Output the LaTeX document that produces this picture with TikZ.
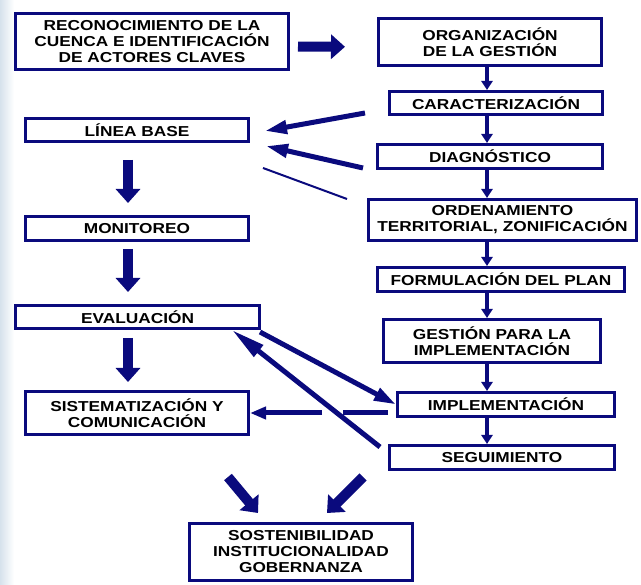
\documentclass[tikz,border=0pt]{standalone}
\usepackage{fontspec}
\setmainfont{Liberation Sans}[FakeStretch=1.2]
\usetikzlibrary{arrows.meta}
\definecolor{navy}{RGB}{10,10,125}
\definecolor{haze}{RGB}{214,226,236}
\begin{document}
\begin{tikzpicture}[x=1pt,y=-1pt]
 \tikzset{box/.style={draw=navy, line width=3pt, fill=white, inner sep=1pt,
   align=center, font=\fontsize{14.4}{16}\selectfont\bfseries}}
 \tikzset{bigarrow/.style={draw=navy, line width=10pt, -{Triangle[length=14pt,width=24pt]}}}
 \tikzset{midarrow/.style={draw=navy, line width=5pt, -{Triangle[length=22pt,width=13pt]}}}
 \tikzset{spinearrow/.style={draw=navy, line width=3.5pt, -{Triangle[length=9pt,width=11pt]}}}
  \useasboundingbox (0,0) rectangle (641,585);
  \shade[left color=haze, right color=white] (0,0) rectangle (14,585);
  % right column
  \node[box, minimum width=273pt, minimum height=56pt] (reco) at (152,41.5) {RECONOCIMIENTO DE LA\\CUENCA E IDENTIFICACIÓN\\DE ACTORES CLAVES};
  \node[box, minimum width=223pt, minimum height=47pt] (org) at (490,42) {ORGANIZACIÓN\\DE LA GESTIÓN};
  \node[box, minimum width=213pt, minimum height=23pt] (caract) at (496,103) {CARACTERIZACIÓN};
  \node[box, minimum width=225pt, minimum height=24pt] (diag) at (490,156.5) {DIAGNÓSTICO};
  \node[box, minimum width=268pt, minimum height=41pt] (orden) at (502.5,220) {ORDENAMIENTO\\TERRITORIAL, ZONIFICACIÓN};
  \node[box, minimum width=247pt, minimum height=24pt] (formul) at (501,279.5) {FORMULACIÓN DEL PLAN};
  \node[box, minimum width=217pt, minimum height=43pt] (gestion) at (492,341) {GESTIÓN PARA LA\\IMPLEMENTACIÓN};
  \node[box, minimum width=217pt, minimum height=24pt] (impl) at (506,404.5) {IMPLEMENTACIÓN};
  \node[box, minimum width=225pt, minimum height=24pt] (segui) at (502,457.5) {SEGUIMIENTO};
  % left column
  \node[box, minimum width=223pt, minimum height=23pt] (linea) at (137,130) {LÍNEA BASE};
  \node[box, minimum width=223pt, minimum height=24pt] (monit) at (137,228.5) {MONITOREO};
  \node[box, minimum width=244pt, minimum height=23pt] (eval) at (137.5,317) {EVALUACIÓN};
  \node[box, minimum width=223pt, minimum height=43pt] (sist) at (137,413) {SISTEMATIZACIÓN Y\\COMUNICACIÓN};
  \node[box, minimum width=223pt, minimum height=57pt] (sost) at (301,552) {SOSTENIBILIDAD\\INSTITUCIONALIDAD\\GOBERNANZA};
  \coordinate (spine) at (487,0);
  \coordinate (lcol) at (128,0);
  \coordinate (gapR) at (343,413);
  \coordinate (gapL) at (322,413);
  \draw[bigarrow, shorten <=8pt, shorten >=32pt] ([yshift=-5pt]reco.east) -- ([yshift=-5pt]org.west);
  \draw[spinearrow] (org.south -| spine) -- (caract.north -| spine);
  \draw[spinearrow] (caract.south -| spine) -- (diag.north -| spine);
  \draw[spinearrow] (diag.south -| spine) -- (orden.north -| spine);
  \draw[spinearrow] (orden.south -| spine) -- (formul.north -| spine);
  \draw[spinearrow] (formul.south -| spine) -- (gestion.north -| spine);
  \draw[spinearrow] (gestion.south -| spine) -- (impl.north -| spine);
  \draw[spinearrow] (impl.south -| spine) -- (segui.north -| spine);
  \draw[bigarrow, shorten <=17pt, shorten >=12pt] (linea.south -| lcol) -- (monit.north -| lcol);
  \draw[bigarrow, shorten <=7pt, shorten >=12pt] (monit.south -| lcol) -- (eval.north -| lcol);
  \draw[bigarrow, shorten <=8pt, shorten >=8pt] (eval.south -| lcol) -- (sist.north -| lcol);
  \draw[midarrow] ([xshift=-23pt,yshift=-10pt]caract.west) -- ([xshift=15pt,yshift=-1pt]linea.east);
  \draw[midarrow] ([xshift=-13pt,yshift=-11.5pt]diag.west) -- ([xshift=16pt,yshift=-16pt]linea.east);
  \draw[navy, line width=2pt] ([xshift=-20pt,yshift=-1pt]orden.north west) -- ([xshift=13pt,yshift=-25pt]linea.south east);
  \draw[midarrow] ([xshift=-1pt,yshift=-2pt]eval.south east) -- (impl.west);
  \draw[midarrow, -{Triangle[length=34pt,width=14pt]}] ([xshift=-8pt,yshift=-3pt]segui.north west) -- ([xshift=-29pt]eval.south east);
  \draw[midarrow, -] ([xshift=-8pt,yshift=-8.5pt]impl.west) -- (gapR);
  \draw[midarrow, -{Triangle[length=16pt,width=12pt]}] (gapL) -- (sist.east);
  \draw[bigarrow] ([xshift=-22pt,yshift=-41pt]sist.south east) -- ([xshift=-43pt,yshift=9pt]sost.north);
  \draw[bigarrow] ([xshift=-25pt,yshift=-6pt]segui.south west) -- ([xshift=26pt,yshift=9pt]sost.north);
\end{tikzpicture}
\end{document}
